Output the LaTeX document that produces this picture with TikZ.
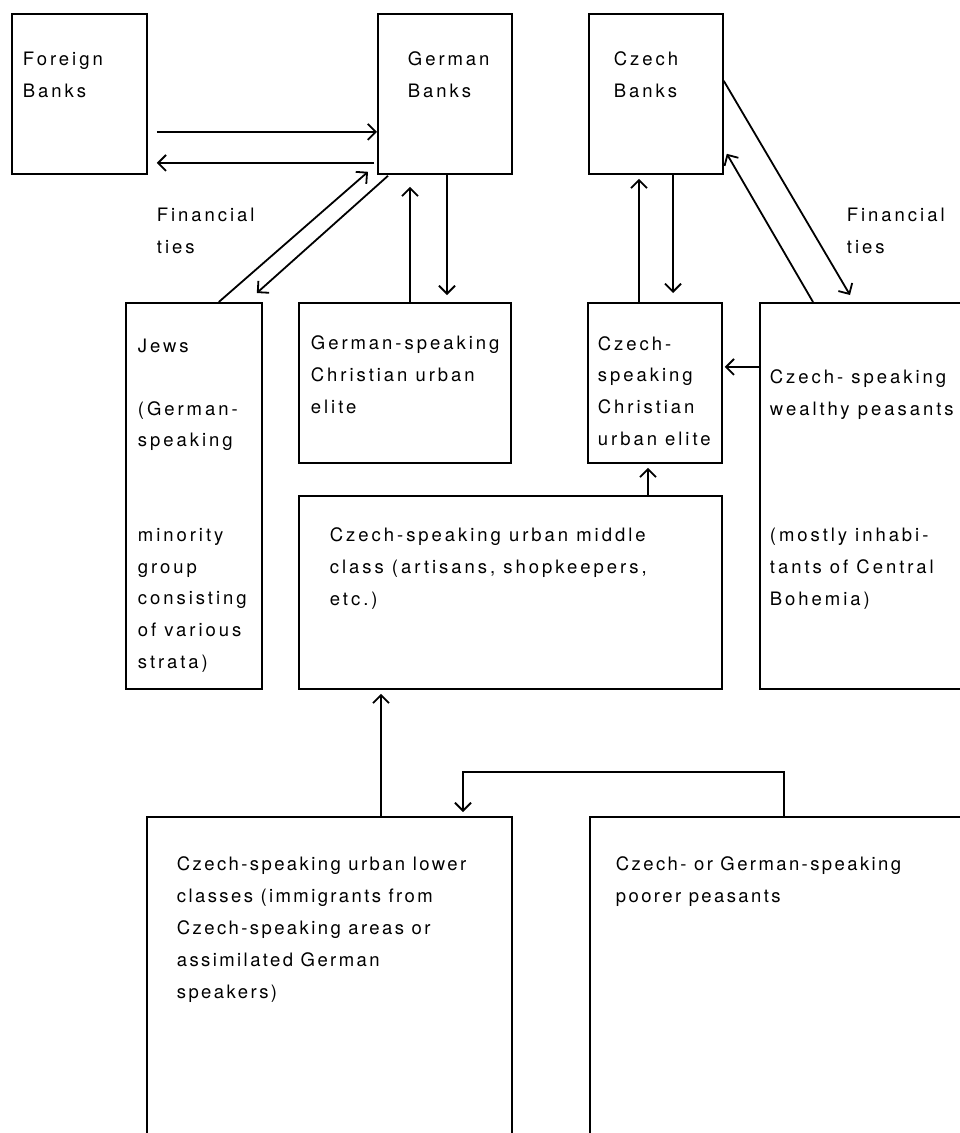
\documentclass[tikz,border=0pt]{standalone}
\usepackage{fontspec}
\newfontfamily\labfont[LetterSpace=16]{TeX Gyre Heros}
\newfontfamily\labnarrow[LetterSpace=13]{TeX Gyre Heros}
\usetikzlibrary{arrows.meta}

\begin{document}
\begin{tikzpicture}[x=1pt,y=-1pt,>={Straight Barb[length=8pt,width=16pt]},line width=1.8pt,
        box/.style={draw,rectangle,inner sep=0pt,anchor=north west},
        lbl/.style={anchor=base west,align=left,inner sep=0pt,
          font=\labfont\fontsize{18.5pt}{31.6pt}\selectfont},
        lbln/.style={lbl,font=\labnarrow\fontsize{18.5pt}{31.8pt}\selectfont}]
        \useasboundingbox (0,0) rectangle (960,1133);
        \clip (0,0) rectangle (960,1133);
        \node[box,minimum width=135pt,minimum height=160pt] (fb) at (11,13) {};
        \node[box,minimum width=134pt,minimum height=160pt] (gb) at (377,13) {};
        \node[box,minimum width=134pt,minimum height=160pt] (cb) at (588,13) {};
        \node[box,minimum width=136pt,minimum height=386pt] (jews) at (125,302) {};
        \node[box,minimum width=212pt,minimum height=160pt] (gce) at (298,302) {};
        \node[box,minimum width=134pt,minimum height=160pt] (cce) at (587,302) {};
        \node[box,minimum width=240pt,minimum height=386pt] (wp) at (759,302) {};
        \node[box,minimum width=423pt,minimum height=193pt] (mc) at (298,495) {};
        \node[box,minimum width=365pt,minimum height=400pt] (lc) at (146,816) {};
        \node[box,minimum width=400pt,minimum height=400pt] (pp) at (589,816) {};

        \node[lbl] (fbt) at (22,97) {Foreign\\Banks};
        \node[lbl] (gbt) at (407,97) {German\\Banks};
        \node[lbl] (cbt) at (613,97) {Czech\\Banks};
        \node[lbl] (fin1) at (156,253) {Financial\\ties};
        \node[lbl] (fin2) at (846,253) {Financial\\ties};
        \node[lbl] (jewst) at (137,668) {Jews\\[31.6pt](German-\\speaking\\[63.2pt]minority\\group\\consisting\\of various\\strata)};
        \node[lbl] (gcet) at (310,413) {German-speaking\\Christian urban\\elite};
        \node[lbl] (ccet) at (597,445) {Czech-\\speaking\\Christian\\urban elite};
        \node[lbl] (wpt) at (769,605) {Czech- speaking\\wealthy peasants\\[94.8pt](mostly inhabi-\\tants of Central\\Bohemia)};
        \node[lbl] (mct) at (329,605) {Czech-speaking urban middle\\class (artisans, shopkeepers,\\etc.)};
        \node[lbln] (lct) at (176,998) {Czech-speaking urban lower\\classes (immigrants from\\Czech-speaking areas or\\assimilated German\\speakers)};
        \node[lbln] (ppt) at (615,902) {Czech- or German-speaking\\poorer peasants};

        \draw[->,shorten <=9pt] ([yshift=-38pt]fb.east) -- ([yshift=-38pt]fb.east -| gb.west);
        \draw[->,shorten <=3pt,shorten >=9pt] ([yshift=-69pt]fb.east -| gb.west) -- ([yshift=-69pt]fb.east);
        \draw[->] ([xshift=-44pt]jews.north east) -- ([xshift=-9pt,yshift=3pt]gb.south west);
        \draw[->] ([xshift=11pt,yshift=-1pt]gb.south west) -- ([xshift=-6pt,yshift=9pt]jews.north east);
        \draw[->] ([xshift=33pt]gb.south west |- gce.north) -- ([xshift=33pt,yshift=-12pt]gb.south west);
        \draw[->] ([xshift=70pt]gb.south west) -- ([xshift=70pt,yshift=7pt]gb.south west |- gce.north);
        \draw[->] ([xshift=51pt]cb.south west |- cce.north) -- ([xshift=51pt,yshift=-4pt]cb.south west);
        \draw[->] ([xshift=85pt]cb.south west) -- ([xshift=85pt,yshift=9pt]cb.south west |- cce.north);
        \draw[->] ([xshift=54pt]wp.north west) -- ([xshift=3pt,yshift=21pt]cb.south east);
        \draw[->] ([yshift=13pt]cb.east) -- ([xshift=91pt,yshift=7pt]wp.north west);
        \draw[->,shorten >=2pt] ([yshift=129pt]wp.west) -- ([yshift=129pt]wp.west -| cce.east);
        \draw[->] ([xshift=61pt]cce.south west |- mc.north) -- ([xshift=61pt,yshift=-4pt]cce.south west);
        \draw[->] ([xshift=235pt]lc.north west) -- ([xshift=235pt,yshift=-4pt]lc.north west |- mc.south);
        \draw[->] ([xshift=195pt]pp.north west) -- ++(0pt,44pt) -| ([xshift=317pt,yshift=4pt]lc.north west);
\end{tikzpicture}
\end{document}
